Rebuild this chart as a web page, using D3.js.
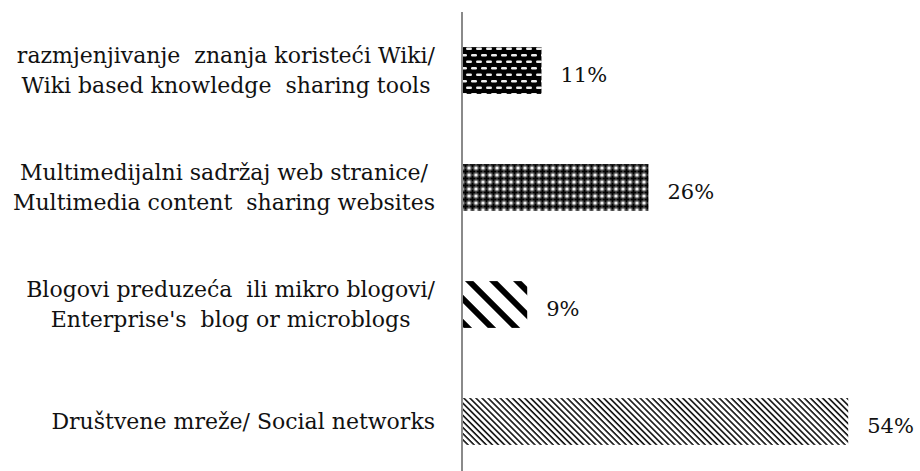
<!DOCTYPE html>
<html>
<head>
<meta charset="utf-8">
<script src="https://cdn.jsdelivr.net/npm/d3@7"></script>
<style>
  body { margin: 0; background: #fff; }
  text { font-family: "DejaVu Serif", "Liberation Serif", serif; fill: #111; }
</style>
</head>
<body>
<svg id="chart"></svg>
<script>
// categories top to bottom, each label split on lines like the original
const categories = ["wiki", "multimedia", "blogs", "social"];
const labelLines = [
  ["razmjenjivanje  znanja koristeći Wiki/", "Wiki based knowledge  sharing tools"],
  ["Multimedijalni sadržaj web stranice/", "Multimedia content  sharing websites"],
  ["Blogovi preduzeća  ili mikro blogovi/", "Enterprise's  blog or microblogs"],
  ["Društvene mreže/ Social networks"]
];
const values = [11, 26, 9, 54];
const patternIds = ["pWiki", "pMulti", "pBlog", "pSocial"];

const width = 920, height = 471;
const axisX = 463;

const svg = d3.select("#chart")
    .attr("width", width)
    .attr("height", height);

const defs = svg.append("defs");

// black with white dashes, staggered
const p1 = defs.append("pattern").attr("id", "pWiki")
    .attr("patternUnits", "userSpaceOnUse").attr("width", 10).attr("height", 13);
p1.append("rect").attr("width", 10).attr("height", 13).attr("fill", "#000");
p1.append("rect").attr("x", 1).attr("y", 2).attr("width", 6).attr("height", 2.5).attr("rx", 1.2).attr("fill", "#eee");
p1.append("rect").attr("x", 6).attr("y", 8.5).attr("width", 6).attr("height", 2.5).attr("rx", 1.2).attr("fill", "#eee");
p1.append("rect").attr("x", -4).attr("y", 8.5).attr("width", 6).attr("height", 2.5).attr("rx", 1.2).attr("fill", "#eee");

// diamond lattice: black crosses, white dots
const p2 = defs.append("pattern").attr("id", "pMulti")
    .attr("patternUnits", "userSpaceOnUse").attr("width", 7).attr("height", 7);
p2.append("rect").attr("width", 7).attr("height", 7).attr("fill", "#666");
p2.append("path").attr("d", "M2.5,0.5h2v2h2v2h-2v2h-2v-2h-2v-2h2z").attr("fill", "#000");
[[0, 0], [7, 0], [0, 7], [7, 7]].forEach(([cx, cy]) => {
  p2.append("circle").attr("cx", cx).attr("cy", cy).attr("r", 1.6).attr("fill", "#f2f2f2");
});

// wide diagonal stripes
const p3 = defs.append("pattern").attr("id", "pBlog")
    .attr("patternUnits", "userSpaceOnUse").attr("width", 17).attr("height", 17)
    .attr("patternTransform", "rotate(45)");
p3.append("rect").attr("width", 17).attr("height", 17).attr("fill", "#fff");
p3.append("rect").attr("width", 17).attr("height", 6).attr("fill", "#000");

// thin diagonal stripes
const p4 = defs.append("pattern").attr("id", "pSocial")
    .attr("patternUnits", "userSpaceOnUse").attr("width", 4.3).attr("height", 4.3)
    .attr("patternTransform", "rotate(45)");
p4.append("rect").attr("width", 4.3).attr("height", 4.3).attr("fill", "#fff");
p4.append("rect").attr("width", 4.3).attr("height", 1.6).attr("fill", "#111");

const x = d3.scaleLinear().domain([0, 60]).range([axisX, 891]);
const y = d3.scaleBand().domain(categories).range([12, 480]).paddingInner(0.6).paddingOuter(0.3);

svg.selectAll("rect.bar")
  .data(values)
  .join("rect")
    .attr("class", "bar")
    .attr("x", x(0))
    .attr("y", (d, i) => y(categories[i]))
    .attr("width", d => x(d) - x(0))
    .attr("height", y.bandwidth())
    .attr("fill", (d, i) => `url(#${patternIds[i]})`);

svg.selectAll("text.val")
  .data(values)
  .join("text")
    .attr("class", "val")
    .attr("x", d => x(d) + 19)
    .attr("y", (d, i) => y(categories[i]) + y.bandwidth() / 2 + 4)
    .attr("dy", "0.35em")
    .attr("font-size", 21)
    .text(d => d + "%");

// category labels: lines centred on each other, block right-aligned
const labelRight = 435, lineH = 30;
categories.forEach((c, i) => {
  const lines = labelLines[i];
  const g = svg.append("g");
  const cy = y(c) + y.bandwidth() / 2;
  const ts = g.selectAll("text").data(lines).join("text")
      .attr("font-size", 22)
      .attr("text-anchor", "middle")
      .attr("y", (d, j) => cy + (j - (lines.length - 1) / 2) * lineH)
      .attr("dy", "0.35em")
      .style("white-space", "pre")
      .text(d => d);
  const w = d3.max(ts.nodes(), n => n.getComputedTextLength());
  ts.attr("x", labelRight - w / 2);
});

// vertical axis line
svg.append("line")
    .attr("x1", axisX - 1).attr("x2", axisX - 1)
    .attr("y1", 12).attr("y2", height)
    .attr("stroke", "#8a8a8a")
    .attr("stroke-width", 2);
</script>
</body>
</html>
